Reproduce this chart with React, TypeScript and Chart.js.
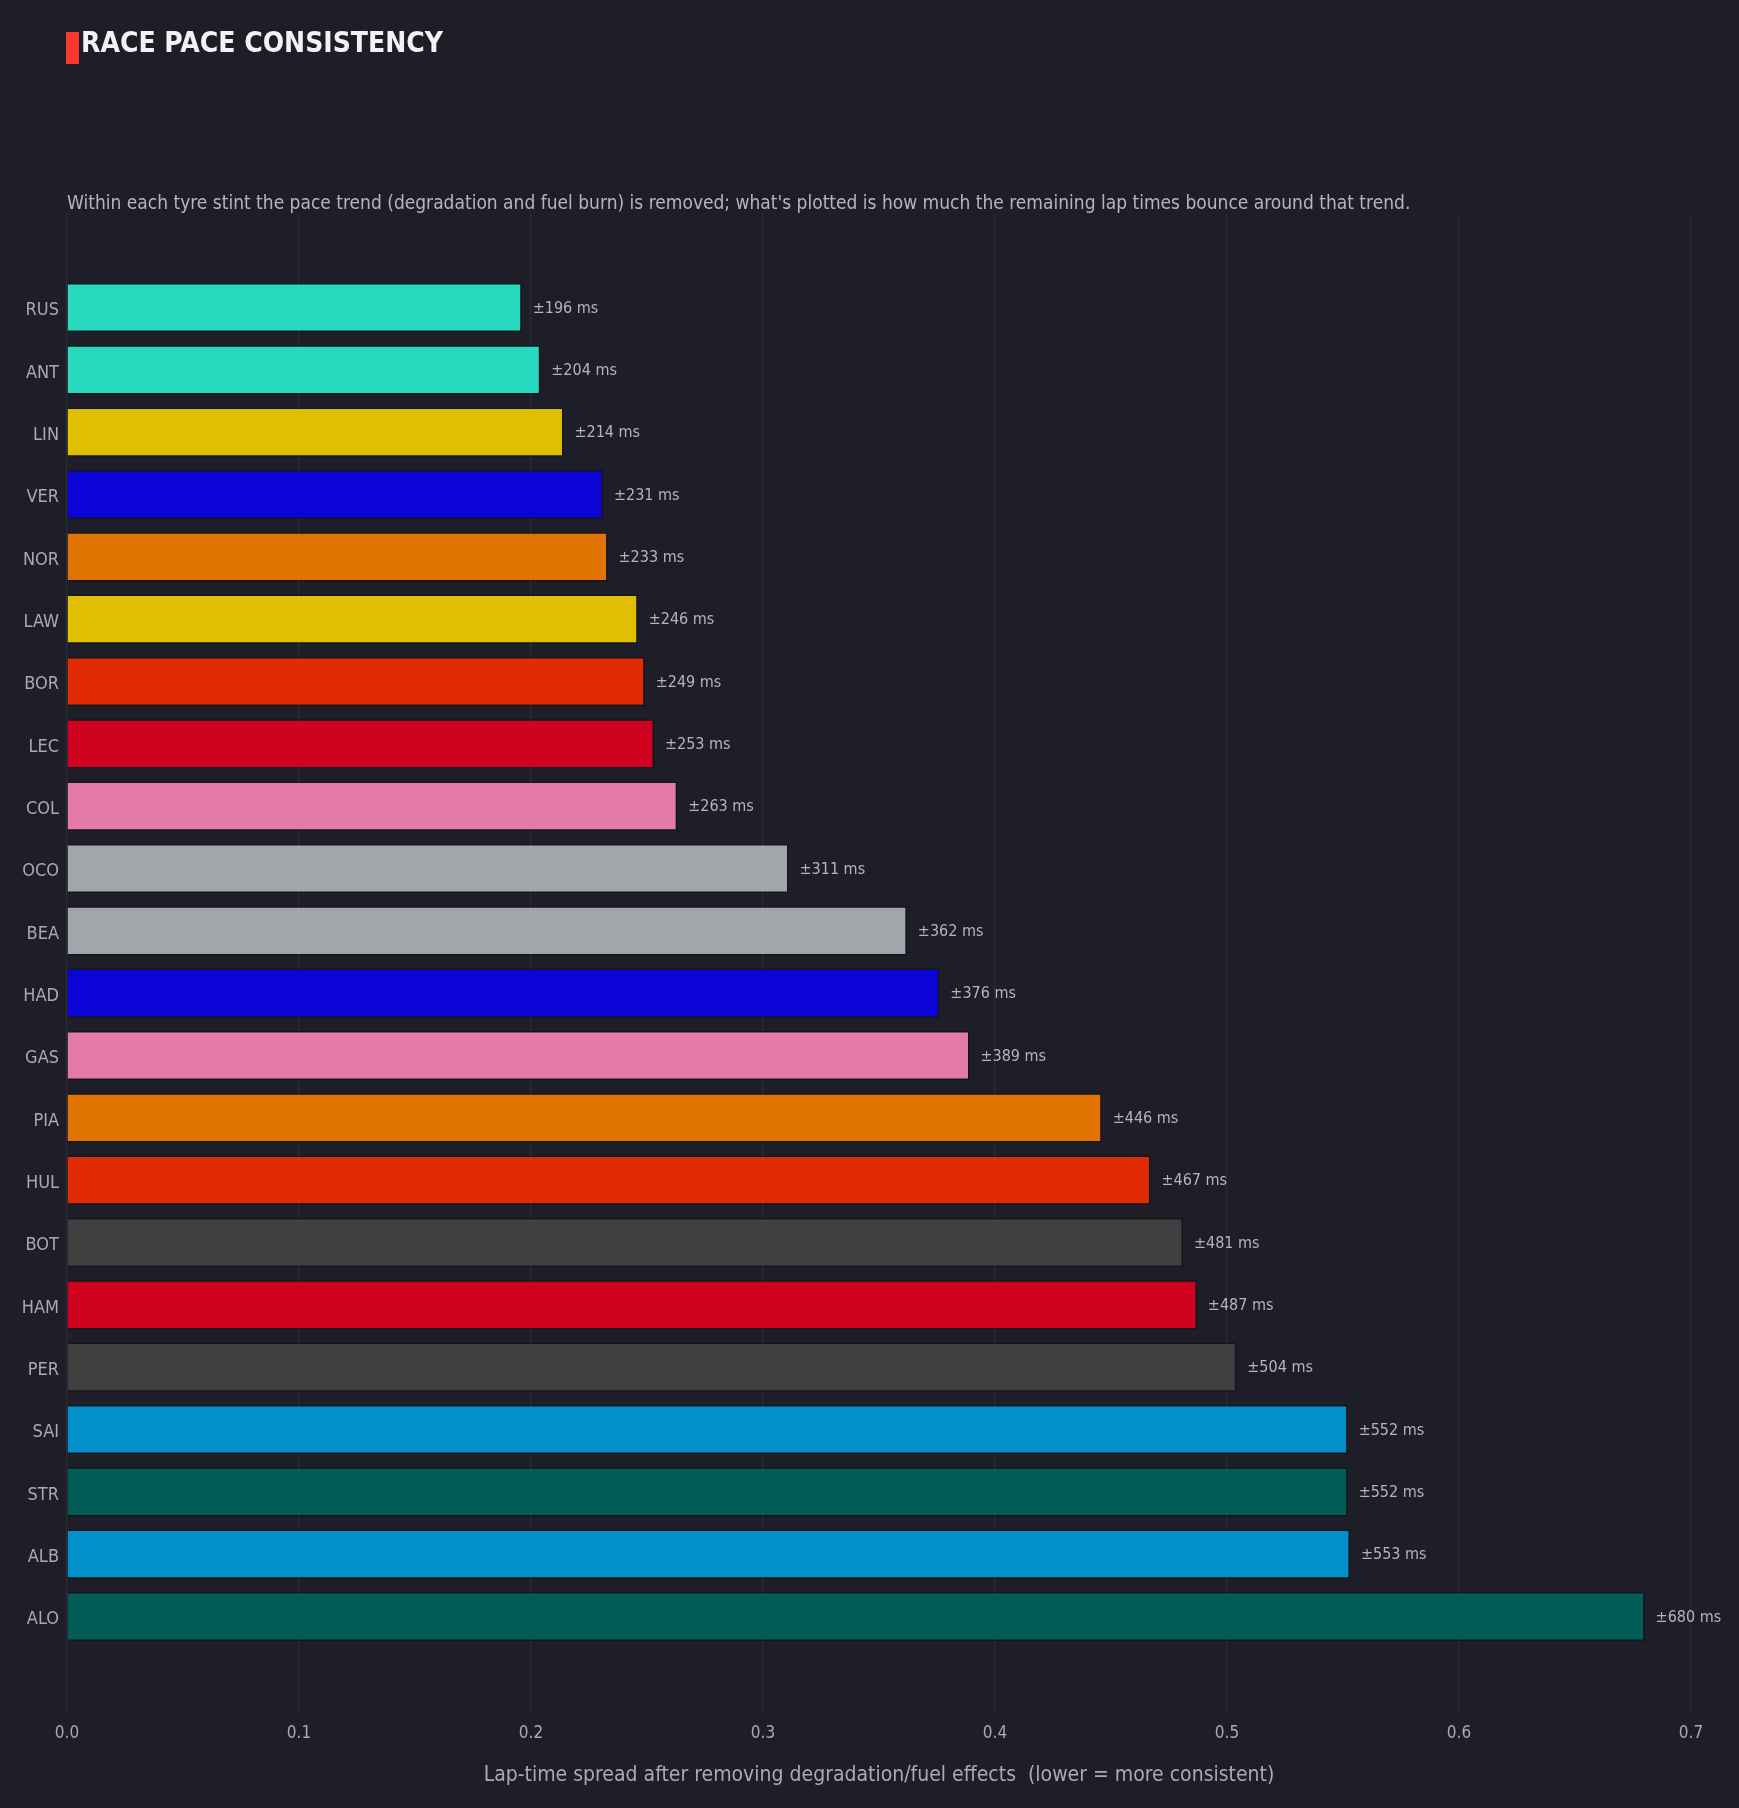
import React, { useEffect, useRef } from "react";
import { Chart, registerables } from "chart.js";

Chart.register(...registerables);

// Drivers ordered from most to least consistent
const drivers = [
  "RUS", "ANT", "LIN", "VER", "NOR", "LAW", "BOR", "LEC", "COL", "OCO", "BEA",
  "HAD", "GAS", "PIA", "HUL", "BOT", "HAM", "PER", "SAI", "STR", "ALB", "ALO",
];

// Detrended lap-time spread, seconds
const spread = [
  0.196, 0.204, 0.214, 0.231, 0.233, 0.246, 0.249, 0.253, 0.263, 0.311, 0.362,
  0.376, 0.389, 0.446, 0.467, 0.481, 0.487, 0.504, 0.552, 0.552, 0.553, 0.68,
];

// Team colours per driver
const teamColors = [
  "#27d9be", "#27d9be", "#dfc000", "#0a04d6", "#e07302", "#dfc000", "#e02b05",
  "#cf0220", "#e47aaa", "#a2a5aa", "#a2a5aa", "#0a04d6", "#e47aaa", "#e07302",
  "#e02b05", "#404040", "#cf0220", "#404040", "#038fc9", "#035c58", "#038fc9",
  "#035c58",
];

const xTicks = [0, 0.1, 0.2, 0.3, 0.4, 0.5, 0.6, 0.7];

const TITLE = "RACE PACE CONSISTENCY";
const SUBTITLE =
  "Within each tyre stint the pace trend (degradation and fuel burn) is removed; what's plotted is how much the remaining lap times bounce around that trend.";
const X_TITLE =
  "Lap-time spread after removing degradation/fuel effects  (lower = more consistent)";

const BG = "#1e1e28";
const FONT = "'DejaVu Sans Condensed', 'Liberation Sans Narrow', sans-serif";

export default function App() {
  const ref = useRef<HTMLCanvasElement | null>(null);

  useEffect(() => {
    document.body.style.margin = "0";
    document.body.style.background = BG;
    const canvas = ref.current;
    if (!canvas) return;

    // blank slots above and below the list give the breathing room at the ends
    const labels = ["", ...drivers, ""];
    const values = [null, ...spread, null];
    const colors = ["transparent", ...teamColors, "transparent"];

    const headerPlugin = {
      id: "header",
      beforeDraw(chart: any) {
        const ctx = chart.ctx;
        ctx.save();
        ctx.fillStyle = BG;
        ctx.fillRect(0, 0, chart.width, chart.height);
        ctx.fillStyle = "#f83a2e";
        ctx.fillRect(66, 32, 13, 32);
        ctx.fillStyle = "#f2f2f4";
        ctx.font = `bold 28px ${FONT}`;
        ctx.textBaseline = "alphabetic";
        ctx.textAlign = "left";
        ctx.fillText(TITLE, 81, 52);
        ctx.fillStyle = "#b4b5bd";
        ctx.font = `19px ${FONT}`;
        ctx.textBaseline = "middle";
        ctx.fillText(SUBTITLE, 67, 204);
        ctx.restore();
      },
    };

    const valueLabels = {
      id: "valueLabels",
      afterDatasetsDraw(chart: any) {
        const ctx = chart.ctx;
        const meta = chart.getDatasetMeta(0);
        ctx.save();
        ctx.fillStyle = "#b4b5bd";
        ctx.font = `16px ${FONT}`;
        ctx.textAlign = "left";
        ctx.textBaseline = "middle";
        meta.data.forEach((bar: any, i: number) => {
          const v = values[i];
          if (v == null) return;
          ctx.fillText(`±${Math.round(v * 1000)} ms`, bar.x + 11, bar.y + 1);
        });
        ctx.restore();
      },
    };

    const chart = new Chart(canvas, {
      type: "bar",
      data: {
        labels,
        datasets: [
          {
            data: values,
            backgroundColor: colors,
            borderColor: "rgba(12,12,18,0.55)",
            borderWidth: 1.5,
            barPercentage: 0.79,
            categoryPercentage: 1,
          },
        ],
      },
      options: {
        indexAxis: "y",
        animation: false,
        responsive: false,
        maintainAspectRatio: false,
        layout: { padding: { left: 0, right: 48, top: 214, bottom: 0 } },
        plugins: {
          legend: { display: false },
          tooltip: { enabled: false },
        },
        scales: {
          x: {
            type: "linear",
            min: 0,
            max: 0.7,
            z: 1,
            afterBuildTicks: (s: any) => {
              s.ticks = xTicks.map((v) => ({ value: v }));
            },
            afterFit: (s: any) => {
              s.height = 98;
            },
            grid: {
              color: "rgba(255,255,255,0.075)",
              lineWidth: 1.2,
              drawTicks: false,
            },
            border: { display: false },
            ticks: {
              color: "#a9aab2",
              font: { family: FONT, size: 17 },
              padding: 13,
              callback: (v: any) => Number(v).toFixed(1),
            },
            title: {
              display: true,
              text: X_TITLE,
              color: "#a9aab2",
              font: { family: FONT, size: 21 },
              padding: { top: 0, bottom: 20 },
            },
          },
          y: {
            type: "category",
            afterFit: (s: any) => {
              s.width = 67;
            },
            grid: { display: false, drawTicks: false },
            border: { display: false },
            ticks: {
              color: "#a9aab2",
              font: { family: FONT, size: 18 },
              padding: 8,
              labelOffset: 3,
              autoSkip: false,
            },
          },
        },
      },
      plugins: [headerPlugin, valueLabels],
    } as any);

    return () => chart.destroy();
  }, []);

  return (
    <div style={{ position: "absolute", left: 0, top: 0, width: 1739, height: 1808, background: BG }}>
      <canvas ref={ref} width={1739} height={1808} style={{ width: 1739, height: 1808, display: "block" }} />
    </div>
  );
}
